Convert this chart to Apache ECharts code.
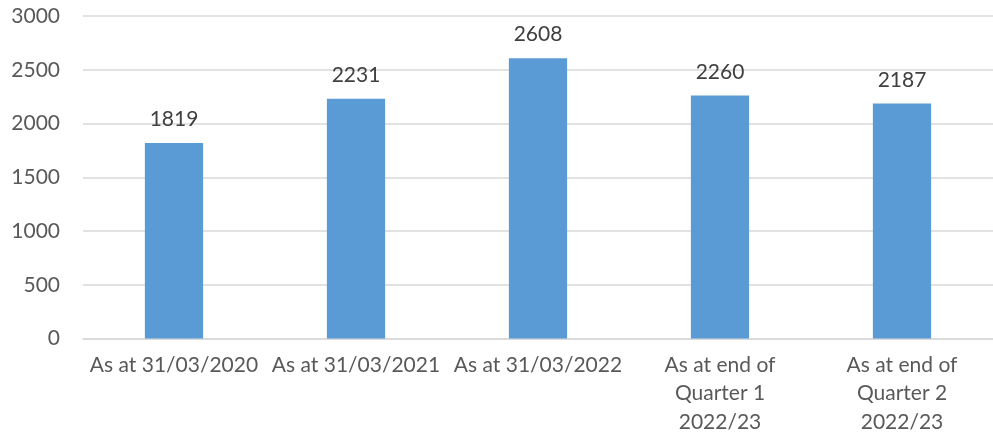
<!DOCTYPE html>
<html>
<head>
<meta charset="utf-8">
<script src="https://cdn.jsdelivr.net/npm/echarts@6/dist/echarts.min.js"></script>
<style>
  html, body { margin: 0; padding: 0; background: #fff; }
  #chart { width: 993px; height: 436px; }
</style>
</head>
<body>
<div id="chart"></div>
<script>
var categories = [
  'As at 31/03/2020',
  'As at 31/03/2021',
  'As at 31/03/2022',
  'As at end of\nQuarter 1\n2022/23',
  'As at end of\nQuarter 2\n2022/23'
];
var values = [1819, 2231, 2608, 2260, 2187];

var chart = echarts.init(document.getElementById('chart'));
chart.setOption({
  animation: false,
  textStyle: { fontFamily: 'Lato' },
  grid: { left: 83, right: 0, top: 16, bottom: 96 },
  xAxis: {
    type: 'category',
    data: categories,
    axisLine: { lineStyle: { color: '#d9d9d9', width: 1.5 } },
    axisTick: { show: false },
    axisLabel: {
      color: '#595959',
      fontSize: 21,
      lineHeight: 28.5,
      margin: 12,
      interval: 0
    }
  },
  yAxis: {
    type: 'value',
    min: 0,
    max: 3000,
    interval: 500,
    axisLine: { show: false },
    axisTick: { show: false },
    splitLine: { lineStyle: { color: '#d9d9d9', width: 1.5 } },
    axisLabel: {
      color: '#595959',
      fontSize: 21,
      margin: 23,
      formatter: function (v) { return String(v); }
    }
  },
  series: [{
    type: 'bar',
    data: values,
    barWidth: '32%',
    itemStyle: { color: '#5b9bd5' },
    label: {
      show: true,
      position: 'top',
      distance: 13,
      color: '#404040',
      fontSize: 21
    }
  }]
});
</script>
</body>
</html>
